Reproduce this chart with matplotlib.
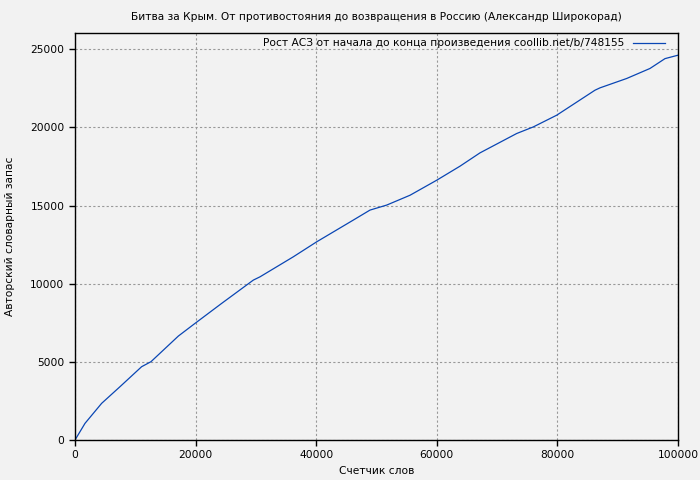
import matplotlib.pyplot as plt

# Word counter vs. author's vocabulary
words = [0, 1660, 4420, 7460, 11050, 12600, 17140, 19900, 24320, 29570,
         30680, 36200, 40080, 46150, 48920, 51690, 55560, 59980, 63850,
         67160, 73250, 76000, 79880, 86230, 87060, 91490, 95350, 97840, 100000]
vocab = [0, 1066, 2346, 3410, 4690, 5010, 6650, 7460, 8740, 10230,
         10440, 11720, 12680, 14070, 14710, 15030, 15660, 16620, 17520,
         18370, 19610, 20030, 20780, 22380, 22530, 23130, 23770, 24400, 24620]

x_ticks = [0, 20000, 40000, 60000, 80000, 100000]
y_ticks = [0, 5000, 10000, 15000, 20000, 25000]

bg = '#f2f2f2'
fig = plt.figure(figsize=(7, 4.8), dpi=100, facecolor=bg)
ax = fig.add_axes([75/700, 40/480, 603/700, 407/480], facecolor=bg)

ax.plot(words, vocab, color='#0a46b4', linewidth=0.9,
        label='Рост АСЗ от начала до конца произведения coollib.net/b/748155')

ax.set_xlim(0, 100000)
ax.set_ylim(0, 26040)
ax.set_xticks(x_ticks)
ax.set_yticks(y_ticks)
ax.grid(True, color='#999999', linestyle=(0, (2, 2)), linewidth=0.8)

ax.tick_params(direction='out', length=4, width=1, labelsize=7.7, colors='black')
for s in ax.spines.values():
    s.set_linewidth(1)

# title is centred over the plot area, not the whole figure
fig.suptitle('Битва за Крым. От противостояния до возвращения в Россию (Александр Широкорад)',
             x=376/700, y=0.976, fontsize=7.7)
ax.set_xlabel('Счетчик слов', fontsize=7.7)
ax.set_ylabel('Авторский словарный запас', fontsize=7.7)
ax.yaxis.set_label_coords(-0.1, 0.5)

ax.legend(loc='upper right', bbox_to_anchor=(1 - 8/603, 1), frameon=False,
          markerfirst=False, fontsize=7.7, handlelength=3.0,
          borderaxespad=0.2, borderpad=0.3)

fig.savefig('out.png', dpi=100, facecolor=bg)
